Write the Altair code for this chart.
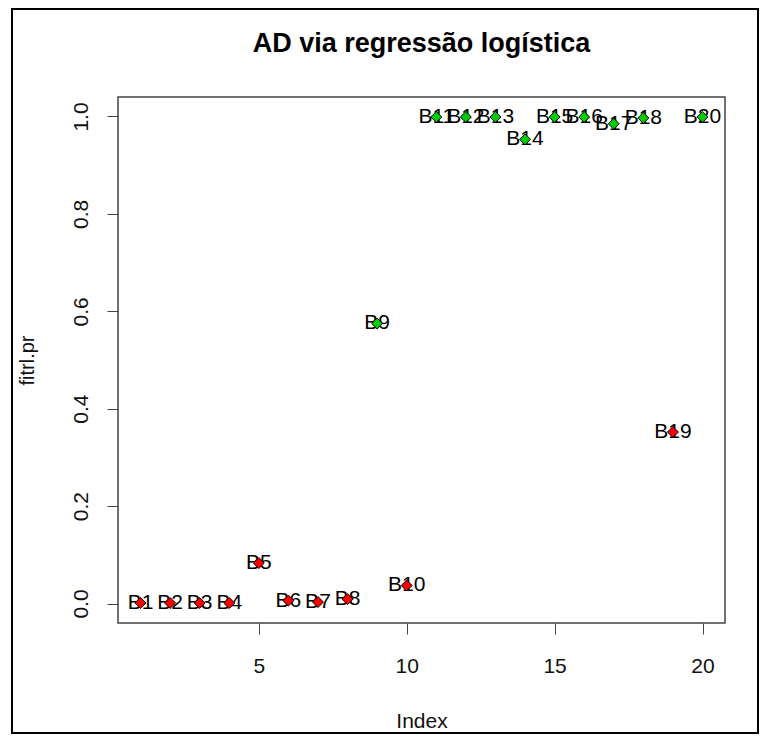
import altair as alt
import pandas as pd

# Data
index = list(range(1, 21))
labels = ["B1", "B2", "B3", "B4", "B5", "B6", "B7", "B8", "B9", "B10",
          "B11", "B12", "B13", "B14", "B15", "B16", "B17", "B18", "B19", "B20"]
fitted = [0.001, 0.001, 0.001, 0.001, 0.083, 0.006, 0.003, 0.009, 0.575, 0.037,
          0.999, 0.999, 0.999, 0.953, 0.999, 0.999, 0.985, 0.997, 0.352, 0.999]
group = ["0", "0", "0", "0", "0", "0", "0", "0", "1", "0",
         "1", "1", "1", "1", "1", "1", "1", "1", "0", "1"]
title_text = ["AD via regressão logística"]

x_ticks = [5, 10, 15, 20]
y_ticks = [0.0, 0.2, 0.4, 0.6, 0.8, 1.0]

df = pd.DataFrame({"idx": index, "fitted": fitted, "label": labels, "group": group})

FONT = "Liberation Sans"
W, H = 607, 526

x_enc = alt.X("idx:Q",
              scale=alt.Scale(domain=[0.24, 20.76], nice=False, zero=False),
              axis=alt.Axis(values=x_ticks, format="d", grid=False, domain=False,
                            tickSize=11, tickColor="#444", labelFont=FONT, labelFontSize=21,
                            labelColor="#111", labelPadding=38, labelBaseline="alphabetic",
                            labelFlush=False,
                            title="Index", titleFont=FONT, titleFontSize=21,
                            titleFontWeight="normal", titleColor="#111",
                            titleY=104, titleBaseline="alphabetic"))
y_enc = alt.Y("fitted:Q",
              scale=alt.Scale(domain=[-0.04, 1.04], nice=False, zero=False),
              axis=alt.Axis(values=y_ticks, format=".1f", grid=False, domain=False,
                            tickSize=11, tickColor="#444", labelFont=FONT, labelFontSize=21,
                            labelColor="#111", labelAngle=-90, labelAlign="center",
                            labelBaseline="alphabetic", labelPadding=20, labelFlush=False,
                            title="fitrl.pr", titleFont=FONT, titleFontSize=20,
                            titleFontWeight="normal", titleColor="#111", titleAngle=270,
                            titleX=-85, titleY=H / 2, titleAlign="center",
                            titleBaseline="alphabetic"))

base = alt.Chart(df)

text = base.mark_text(font=FONT, fontSize=21, color="black", align="center",
                      baseline="middle").encode(
    x=x_enc, y=y_enc, text="label:N"
)

points = base.mark_point(shape="diamond", filled=True, size=120, stroke="black",
                         strokeWidth=1, opacity=1).encode(
    x="idx:Q", y="fitted:Q",
    fill=alt.Fill("group:N", scale=alt.Scale(domain=["0", "1"], range=["#FF0000", "#00CC00"]),
                  legend=None),
)

frame = alt.Chart(pd.DataFrame({"a": [0]})).mark_rect(
    fillOpacity=0, stroke="black", strokeWidth=2, clip=False
).encode(
    x=alt.value(-106), x2=alt.value(640), y=alt.value(-88), y2=alt.value(636)
)

title = alt.Chart(pd.DataFrame({"t": title_text})).mark_text(
    font=FONT, fontSize=27, fontWeight="bold", color="black",
    align="center", baseline="alphabetic"
).encode(x=alt.value(W / 2), y=alt.value(-45), text="t:N")

chart = alt.layer(frame, text, points, title).properties(
    width=W, height=H,
    autosize=alt.AutoSizeParams(type="none"),
    padding={"left": 110, "top": 89, "right": 35, "bottom": 111},
).configure(background="white").configure_view(stroke="#444", strokeWidth=1.5)

chart.save("out.html", embed_options={"renderer": "svg", "actions": False})
